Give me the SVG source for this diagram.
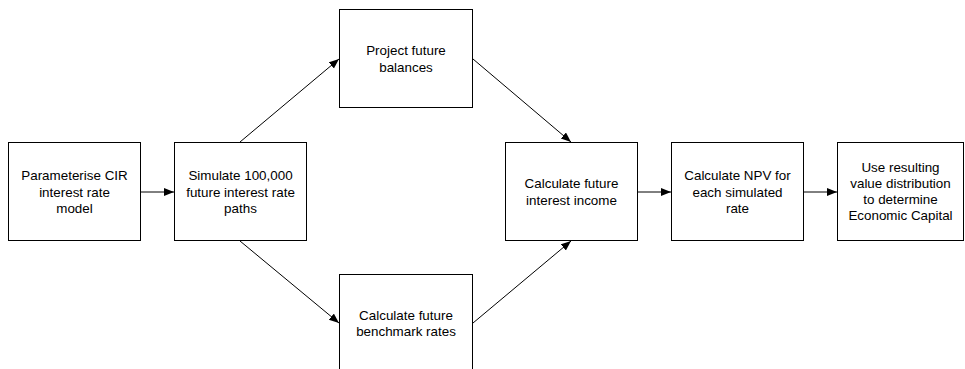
<svg xmlns="http://www.w3.org/2000/svg" width="965" height="369" viewBox="0 0 965 369">
<defs>
<marker id="arr" markerUnits="userSpaceOnUse" markerWidth="12" markerHeight="10" refX="10" refY="4" orient="auto">
<path d="M0,0 L10,4 L0,8 Z" fill="#000"/>
</marker>
<style>
.box{fill:#fff;stroke:#000;stroke-width:1}
.lbl{font-family:"Liberation Sans",Arial,sans-serif;font-size:13.4px;fill:#000;text-anchor:middle}
.con{stroke:#000;stroke-width:1;fill:none;marker-end:url(#arr)}
</style>
</defs>
<rect width="965" height="369" fill="#fff"/>
<g id="connectors">
<line class="con" x1="141" y1="192" x2="174" y2="192"/>
<line class="con" x1="240" y1="142" x2="339" y2="59"/>
<line class="con" x1="240" y1="241" x2="339" y2="323"/>
<line class="con" x1="473" y1="59" x2="571" y2="142"/>
<line class="con" x1="473" y1="323" x2="571" y2="241"/>
<line class="con" x1="638" y1="192" x2="671" y2="192"/>
<line class="con" x1="803" y1="192" x2="837" y2="192"/>
</g>
<g id="n1">
<rect class="box" x="8.5" y="142.5" width="132" height="98"/>
<text class="lbl"><tspan x="74.5" y="180">Parameterise CIR</tspan><tspan x="74.5" y="196.5">interest rate</tspan><tspan x="74.5" y="213">model</tspan></text>
</g>
<g id="n2">
<rect class="box" x="174.5" y="142.5" width="132" height="98"/>
<text class="lbl"><tspan x="240.5" y="180">Simulate 100,000</tspan><tspan x="240.5" y="196.5">future interest rate</tspan><tspan x="240.5" y="213">paths</tspan></text>
</g>
<g id="n3">
<rect class="box" x="339.5" y="9.5" width="133" height="98"/>
<text class="lbl"><tspan x="406" y="55">Project future</tspan><tspan x="406" y="71.5">balances</tspan></text>
</g>
<g id="n4">
<rect class="box" x="339.5" y="274.5" width="133" height="99"/>
<text class="lbl"><tspan x="406" y="319.5">Calculate future</tspan><tspan x="406" y="336">benchmark rates</tspan></text>
</g>
<g id="n5">
<rect class="box" x="505.5" y="142.5" width="132" height="98"/>
<text class="lbl"><tspan x="571.5" y="188">Calculate future</tspan><tspan x="571.5" y="204.5">interest income</tspan></text>
</g>
<g id="n6">
<rect class="box" x="671.5" y="142.5" width="132" height="98"/>
<text class="lbl"><tspan x="737.5" y="180">Calculate NPV for</tspan><tspan x="737.5" y="196.5">each simulated</tspan><tspan x="737.5" y="213">rate</tspan></text>
</g>
<g id="n7">
<rect class="box" x="837.5" y="142.5" width="126" height="98"/>
<text class="lbl"><tspan x="900.5" y="171.5">Use resulting</tspan><tspan x="900.5" y="187.5">value distribution</tspan><tspan x="900.5" y="203.5">to determine</tspan><tspan x="900.5" y="219.5">Economic Capital</tspan></text>
</g>
</svg>
